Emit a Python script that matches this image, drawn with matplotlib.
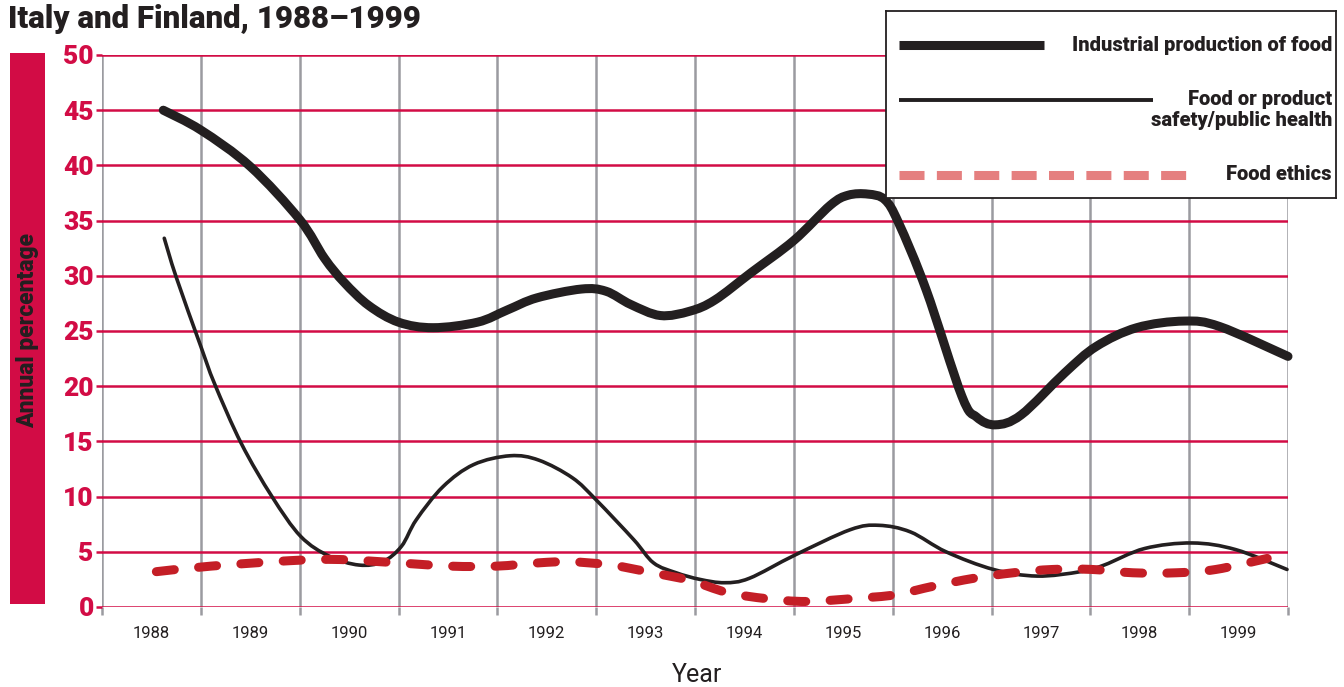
import matplotlib
matplotlib.use("Agg")
import matplotlib.pyplot as plt
from matplotlib.lines import Line2D
from matplotlib.path import Path
from matplotlib.patches import PathPatch

# ---------------- data (x: 0 = left edge of 1988 column, 12 = right edge of 1999) -------------
years = ["1988", "1989", "1990", "1991", "1992", "1993", "1994", "1995", "1996", "1997", "1998", "1999"]

industrial_x = [0.62, 1.0, 1.5, 2.0, 2.25, 2.45, 2.7, 3.0, 3.35, 3.8, 4.1, 4.4, 4.85, 5.1, 5.35,
                5.65, 5.95, 6.2, 6.57, 7.0, 7.37, 7.55, 7.75, 7.92, 8.06, 8.34, 8.7, 8.85, 9.04,
                9.3, 9.74, 10.06, 10.47, 10.95, 11.31, 12.0]
industrial_y = [45.0, 43.2, 39.9, 35.1, 31.6, 29.4, 27.3, 25.8, 25.3, 25.8, 26.9, 28.0, 28.8, 28.6,
                27.4, 26.4, 26.8, 27.8, 30.3, 33.2, 36.4, 37.3, 37.4, 36.9, 34.8, 28.7, 19.1,
                17.2, 16.5, 17.4, 21.2, 23.6, 25.3, 25.9, 25.4, 22.7]

safety_x = [0.63, 0.75, 1.0, 1.14, 1.41, 1.72, 2.01, 2.3, 2.6, 2.84, 3.03, 3.18, 3.45, 3.76,
            4.13, 4.42, 4.76, 5.0, 5.38, 5.58, 5.81, 6.05, 6.3, 6.55, 7.01, 7.57, 7.86, 8.18,
            8.54, 9.02, 9.46, 9.9, 10.14, 10.55, 11.03, 11.47, 11.99]
safety_y = [33.4, 29.9, 23.6, 20.2, 14.8, 10.0, 6.4, 4.6, 3.8, 4.1, 5.5, 7.9, 10.9, 12.9,
            13.7, 13.3, 11.7, 9.7, 6.1, 4.0, 3.1, 2.5, 2.2, 2.6, 4.7, 7.0, 7.4, 6.8,
            5.0, 3.4, 2.8, 3.2, 3.8, 5.3, 5.8, 5.2, 3.4]

ethics_x = [0.55, 1.1, 1.91, 2.41, 2.99, 3.53, 3.99, 4.42, 4.73, 5.15, 5.57, 5.95, 6.33, 6.73,
            7.13, 7.65, 8.02, 8.42, 8.82, 9.22, 9.62, 10.02, 10.43, 10.87, 11.27, 11.79]
ethics_y = [3.2, 3.7, 4.2, 4.3, 4.0, 3.7, 3.7, 4.0, 4.1, 3.8, 3.1, 2.4, 1.3, 0.75,
            0.5, 0.8, 1.1, 1.9, 2.6, 3.1, 3.4, 3.4, 3.1, 3.1, 3.4, 4.4]

series_labels = ["Industrial production of food", "Food or product\nsafety/public health", "Food ethics"]
y_ticks = [0, 5, 10, 15, 20, 25, 30, 35, 40, 45, 50]

# ---------------- style ----------------
CRIMSON = "#D20C45"
GRAY = "#9B9BA0"
BLACK = "#231F20"
RED_DASH = "#C41E26"
SALMON = "#E57F7F"
NARROW = ["Liberation Sans Narrow", "Roboto", "DejaVu Sans"]
BOLD = ["Roboto", "DejaVu Sans"]


def smooth_path(xs, ys):
    """Catmull-Rom curve through the read points, drawn as cubic Bezier segments."""
    pts = list(zip(xs, ys))
    n = len(pts)
    verts = [pts[0]]
    codes = [Path.MOVETO]
    for i in range(n - 1):
        p0 = pts[i - 1] if i > 0 else pts[i]
        p1 = pts[i]
        p2 = pts[i + 1]
        p3 = pts[i + 2] if i + 2 < n else pts[i + 1]
        c1 = (p1[0] + (p2[0] - p0[0]) / 6, p1[1] + (p2[1] - p0[1]) / 6)
        c2 = (p2[0] - (p3[0] - p1[0]) / 6, p2[1] - (p3[1] - p1[1]) / 6)
        verts += [c1, c2, p2]
        codes += [Path.CURVE4] * 3
    return Path(verts, codes)


W, H = 1344, 687
fig = plt.figure(figsize=(W / 100, H / 100), dpi=100)
fig.patch.set_facecolor("white")

ax = fig.add_axes([102 / W, 1 - 607 / H, (1288 - 102) / W, (607 - 55) / H])
ax.set_xlim(0, 12)
ax.set_ylim(0, 50)
for s in ax.spines.values():
    s.set_visible(False)

# grid
ax.set_xticks(range(0, 13))
ax.set_xticks([i + 0.5 for i in range(12)], minor=True)
ax.set_xticklabels([])
ax.set_xticklabels(years, minor=True, family=NARROW, fontsize=12, color=BLACK)
ax.tick_params(axis="x", which="major", length=6, width=1.8, color=GRAY)
ax.tick_params(axis="x", which="minor", length=0, pad=14)
ax.set_yticks(y_ticks)
ax.set_yticklabels([str(v) for v in y_ticks], fontsize=19, fontweight="heavy", color=CRIMSON, family=BOLD)
ax.tick_params(axis="y", length=4, width=1.8, color=CRIMSON, pad=2)
ax.grid(axis="x", which="major", color=GRAY, linewidth=1.8, zorder=1)
ax.grid(axis="y", color=CRIMSON, linewidth=1.8, zorder=1)
ax.set_axisbelow(True)

fig.text(697 / W, 1 - 675 / H, "Year", ha="center", va="center", family=NARROW,
         fontsize=18, color=BLACK)

# series (smooth curves through the read values)
ax.add_patch(PathPatch(smooth_path(industrial_x, industrial_y), fill=False, edgecolor=BLACK,
                       lw=6.5, capstyle="round", joinstyle="round", zorder=3, clip_on=False))
ax.add_patch(PathPatch(smooth_path(safety_x, safety_y), fill=False, edgecolor=BLACK,
                       lw=2.6, capstyle="round", joinstyle="round", zorder=3, clip_on=False))
ax.add_patch(PathPatch(smooth_path(ethics_x, ethics_y), fill=False, edgecolor=RED_DASH,
                       lw=6.5, linestyle=(0, (2.0, 2.7)), capstyle="round", joinstyle="round",
                       zorder=4, clip_on=False))

# vertical label bar
fig.patches.append(plt.Rectangle((10 / W, 1 - 604 / H), 35 / W, (604 - 53) / H,
                                 transform=fig.transFigure, facecolor=CRIMSON, edgecolor="none"))
fig.text(28 / W, 1 - 330 / H, "Annual percentage", rotation=90, ha="center", va="center",
         fontsize=16.5, fontweight="heavy", color=BLACK, family=BOLD)

# title (second line visible)
fig.text(8 / W, 1 - 19 / H, "Italy and Finland, 1988–1999", ha="left", va="center",
         fontsize=22.5, fontweight="heavy", color=BLACK, family=BOLD)

# legend box
lax = fig.add_axes([886 / W, 1 - 198 / H, 450 / W, 187 / H])
lax.set_xlim(0, 1)
lax.set_ylim(0, 1)
lax.set_xticks([])
lax.set_yticks([])
for s in lax.spines.values():
    s.set_linewidth(1.3)
    s.set_color(BLACK)
lax.add_line(Line2D([0.029, 0.351], [0.818, 0.818], color=BLACK, lw=6.5, solid_capstyle="butt"))
lax.add_line(Line2D([0.029, 0.593], [0.524, 0.524], color=BLACK, lw=2.8, solid_capstyle="butt"))
lax.add_line(Line2D([0.029, 0.667], [0.123, 0.123], color=SALMON, lw=6.5, dashes=(2.77, 1.37),
                    dash_capstyle="butt"))
lax.text(0.991, 0.818, series_labels[0], ha="right", va="center", fontsize=14.5,
         fontweight="heavy", color=BLACK, family=BOLD)
lax.text(0.991, 0.47, series_labels[1], ha="right", va="center", fontsize=14.5,
         fontweight="heavy", color=BLACK, family=BOLD, linespacing=1.1)
lax.text(0.991, 0.123, series_labels[2], ha="right", va="center", fontsize=14.5,
         fontweight="heavy", color=BLACK, family=BOLD)

fig.savefig("out.png", dpi=100)
